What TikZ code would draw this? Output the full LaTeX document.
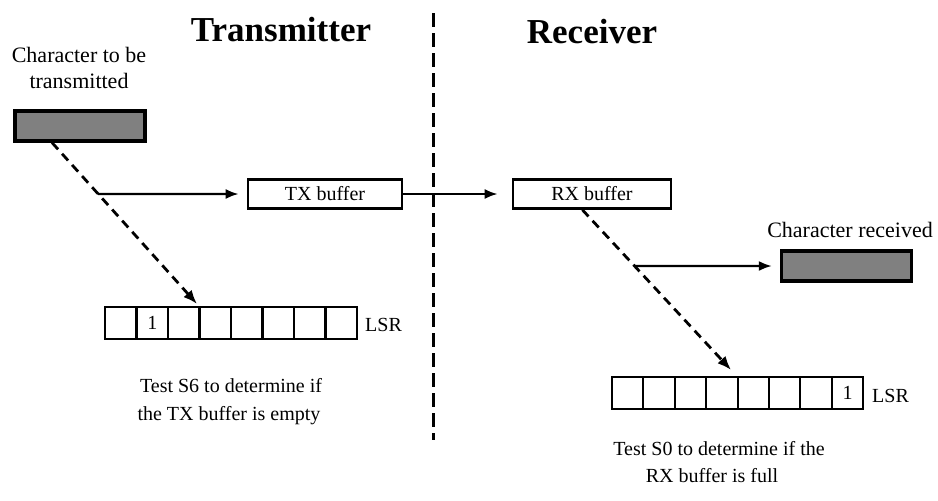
\documentclass[tikz,border=0pt]{standalone}
\usepackage{fontspec}
\setmainfont{Liberation Serif}
\usetikzlibrary{arrows.meta,calc}
\definecolor{charfill}{RGB}{128,128,128}
\begin{document}
\begin{tikzpicture}[x=1pt,y=-1pt,
  title/.style={font=\fontsize{35}{40}\selectfont\bfseries, inner sep=0},
  lbl/.style={font=\fontsize{22}{26}\selectfont, inner sep=0},
  txt/.style={font=\fontsize{20}{26}\selectfont, inner sep=0},
  bufbox/.style={draw, line width=2.6pt, minimum width=154pt, minimum height=29pt,
    inner sep=0, font=\fontsize{20}{24}\selectfont},
  charbox/.style={draw, line width=3.2pt, fill=charfill, minimum width=130pt, minimum height=30pt},
  cell/.style={draw, line width=2pt, minimum width=31.4pt, minimum height=32pt,
    inner sep=0, font=\fontsize{20}{24}\selectfont},
  flow/.style={line width=2.4pt, -{Latex[length=13pt,width=10pt]}},
  dflow/.style={line width=2.8pt, dash pattern=on 9pt off 6pt, -{Latex[length=14pt,width=11pt]}},
  divider/.style={line width=3pt, dash pattern=on 14pt off 6pt},
]
\fill[white] (0,0) rectangle (938,501);
\useasboundingbox (0,0) rectangle (938,501);

% headings
\node[title, anchor=base] (ttx) at (281,41) {Transmitter};
\node[title, anchor=base] (trx) at (592,43) {Receiver};

% dividing line between the two sides
\coordinate (dtop) at (433,13);
\coordinate (dbot) at (433,440);
\draw[divider] (dtop) -- (dbot);

% transmitter side
\node[lbl, anchor=base] (ctx1) at (79,62) {Character to be};
\node[lbl, anchor=base] (ctx2) at (79,88) {transmitted};
\node[charbox] (chartx) at (80,126) {};
\node[bufbox] (txbuf) at (325,194) {TX buffer};

\foreach \i/\t in {1/,2/1,3/,4/,5/,6/,7/,8/}
  \node[cell] (la\i) at ({105+31.5*(\i-0.5)},323) {\t};
\node[txt, anchor=base west] (lsra) at (365,331) {LSR};
\node[txt, anchor=base] (tsa1) at (231,392) {Test S6 to determine if};
\node[txt, anchor=base] (tsa2) at (229,420) {the TX buffer is empty};

% receiver side
\node[bufbox, minimum width=158pt] (rxbuf) at (592,194) {RX buffer};
\node[lbl, anchor=base] (crxt) at (850,237) {Character received};
\node[charbox] (charrx) at (846.5,266) {};

\foreach \i/\t in {1/,2/,3/,4/,5/,6/,7/,8/1}
  \node[cell] (lb\i) at ({612+31.4*(\i-0.5)},393) {\t};
\node[txt, anchor=base west] (lsrb) at (872,402) {LSR};
\node[txt, anchor=base] (tsb1) at (719,455) {Test S0 to determine if the};
\node[txt, anchor=base] (tsb2) at (712,482) {RX buffer is full};

% dashed test paths
\coordinate (d1s) at ($(chartx.south west)!0.29!(chartx.south east)$);
\coordinate (d1e) at ($(la4.north west)+(-1.5,-2)$);
\draw[dflow] (d1s) -- (d1e);
\coordinate (d2s) at ($(rxbuf.south west)!0.44!(rxbuf.south east)$);
\coordinate (d2e) at ($(lb5.north west)+(-5.5,-6)$);
\draw[dflow] (d2s) -- (d2e);

% data flow
\coordinate (b1) at (intersection cs: first line={(d1s)--(d1e)}, second line={(txbuf.west)--(txbuf.east)});
\coordinate (b2) at (intersection cs: first line={(d2s)--(d2e)}, second line={(charrx.west)--(charrx.east)});
\draw[flow, shorten >=8pt] (b1) -- (txbuf.west);
\draw[flow, shorten >=14pt] (txbuf.east) -- (txbuf.east -| rxbuf.west);
\draw[flow, shorten >=8pt] (b2) -- (charrx.west);
\end{tikzpicture}
\end{document}
